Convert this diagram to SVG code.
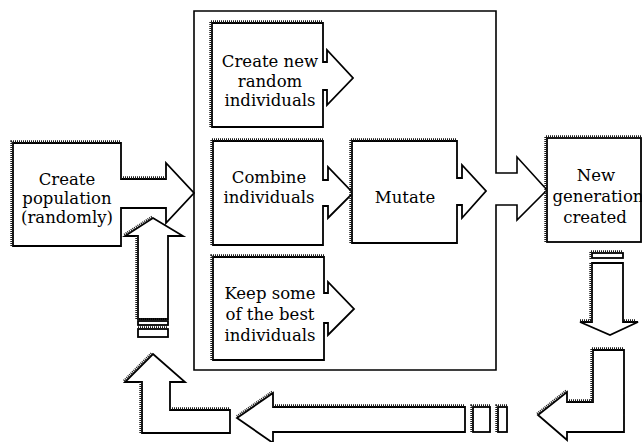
<svg xmlns="http://www.w3.org/2000/svg" width="642" height="442" viewBox="0 0 642 442">
  <style>
    .s { fill: #fff; stroke: #000; stroke-width: 1.8; stroke-linejoin: miter; }
    .o { fill: none; stroke: #000; stroke-width: 1.6; }
    .h { fill: none; stroke: #1a1a1a; stroke-width: 2.4; stroke-dasharray: 1 1; }
    .t { font-family: "DejaVu Serif", "Liberation Serif", serif; font-size: 16.5px; fill: #000; text-anchor: middle; }
  </style>

  <!-- operator block: encloses the three producers and the mutation step -->
  <g id="operators">
    <path class="o" d="M194,11 H496 V173 H517 V157 L547,190 L517,220 V205 H496 V370 H194 Z" fill="#fff"/>
  </g>

  <!-- feedback loop arrows -->
  <g id="connectors">
    <!-- down from new generation -->
    <rect class="s" x="592" y="253" width="31" height="5"/>
    <path class="s" d="M592,263 H623 V322 H638 L610,335 L580,322 H592 Z"/>
    <path class="h" d="M590.5,259 V251.5 H623 M590.5,322 V263 M580,320.5 H591 M624,320.5 H636"/>
    <!-- turn to the left -->
    <path class="s" d="M593,350 H624 V432 H567 V440 L538,415 L567,392 V402 H593 Z"/>
    <path class="h" d="M591.5,402 V348.5 H624 M567,400.5 H593 M566.1,390.8 L537.1,413.8"/>
    <!-- long arrow along the bottom -->
    <rect class="s" x="498" y="407" width="9" height="25"/>
    <rect class="s" x="473" y="407" width="17" height="25"/>
    <path class="s" d="M465,407 V432 H273 V443 L237,418 L273,393 V407 Z"/>
    <path class="h" d="M273,405.5 H465 M272.1,391.8 L236.1,416.8 M471.5,432 V405.5 H490 M496.5,432 V405.5 H507"/>
    <!-- turn upward -->
    <path class="s" d="M230,410 V433 H142 V382 H125 L153,354 L185,382 H170 V410 Z"/>
    <path class="h" d="M140.5,433 V382 M123.9,380.9 L151.9,352.9 M170,408.5 H230"/>
    <!-- back up to the population -->
    <rect class="s" x="138" y="321" width="30" height="4"/>
    <rect class="s" x="138" y="329" width="30" height="8"/>
    <path class="s" d="M138,319 V236 H125 L153,218 L183,236 H168 V319 Z"/>
    <path class="h" d="M136.5,319 V236 M124.2,234.7 L152.2,216.7 M138,319.5 H168 M138,327.5 H168"/>
  </g>

  <g id="create-population">
    <path class="s" d="M13,143 H121 V179 H166 V163 L194,193 L166,223 V208 H121 V246 H13 Z"/>
    <path class="h" d="M11.5,246 V141.5 H121 M121,177.5 H166"/>
    <text class="t" x="67" y="185">Create</text>
    <text class="t" x="67" y="204">population</text>
    <text class="t" x="67" y="223">(randomly)</text>
  </g>

  <g id="create-new">
    <path class="s" d="M212,23 H323 V62 H327 V50 L353,78 L327,105 V90 H323 V127 H212 Z"/>
    <path class="h" d="M210.5,127 V21.5 H323"/>
    <text class="t" x="270" y="67">Create new</text>
    <text class="t" x="270" y="87">random</text>
    <text class="t" x="270" y="106">individuals</text>
  </g>

  <g id="combine">
    <path class="s" d="M213,141 H323 V180 H328 V167 L353,193 L328,218 V206 H323 V245 H213 Z"/>
    <path class="h" d="M211.5,245 V139.5 H323"/>
    <text class="t" x="269" y="183">Combine</text>
    <text class="t" x="269" y="203">individuals</text>
  </g>

  <g id="mutate">
    <path class="s" d="M352,141 H457 V178 H462 V165 L486,191 L462,218 V205 H457 V243 H352 Z"/>
    <path class="h" d="M350.5,243 V139.5 H457"/>
    <text class="t" x="405" y="203">Mutate</text>
  </g>

  <g id="keep-best">
    <path class="s" d="M213,257 H324 V293 H328 V282 L354,309 L328,335 V323 H324 V360 H213 Z"/>
    <path class="h" d="M211.5,360 V255.5 H324"/>
    <text class="t" x="270" y="299">Keep some</text>
    <text class="t" x="270" y="320">of the best</text>
    <text class="t" x="270" y="341">individuals</text>
  </g>

  <g id="new-generation">
    <rect class="s" x="547" y="138" width="94" height="104"/>
    <path class="h" d="M545.5,242 V136.5 H641"/>
    <text class="t" x="596" y="181">New</text>
    <text class="t" x="598" y="202">generation</text>
    <text class="t" x="595" y="223">created</text>
  </g>
</svg>
